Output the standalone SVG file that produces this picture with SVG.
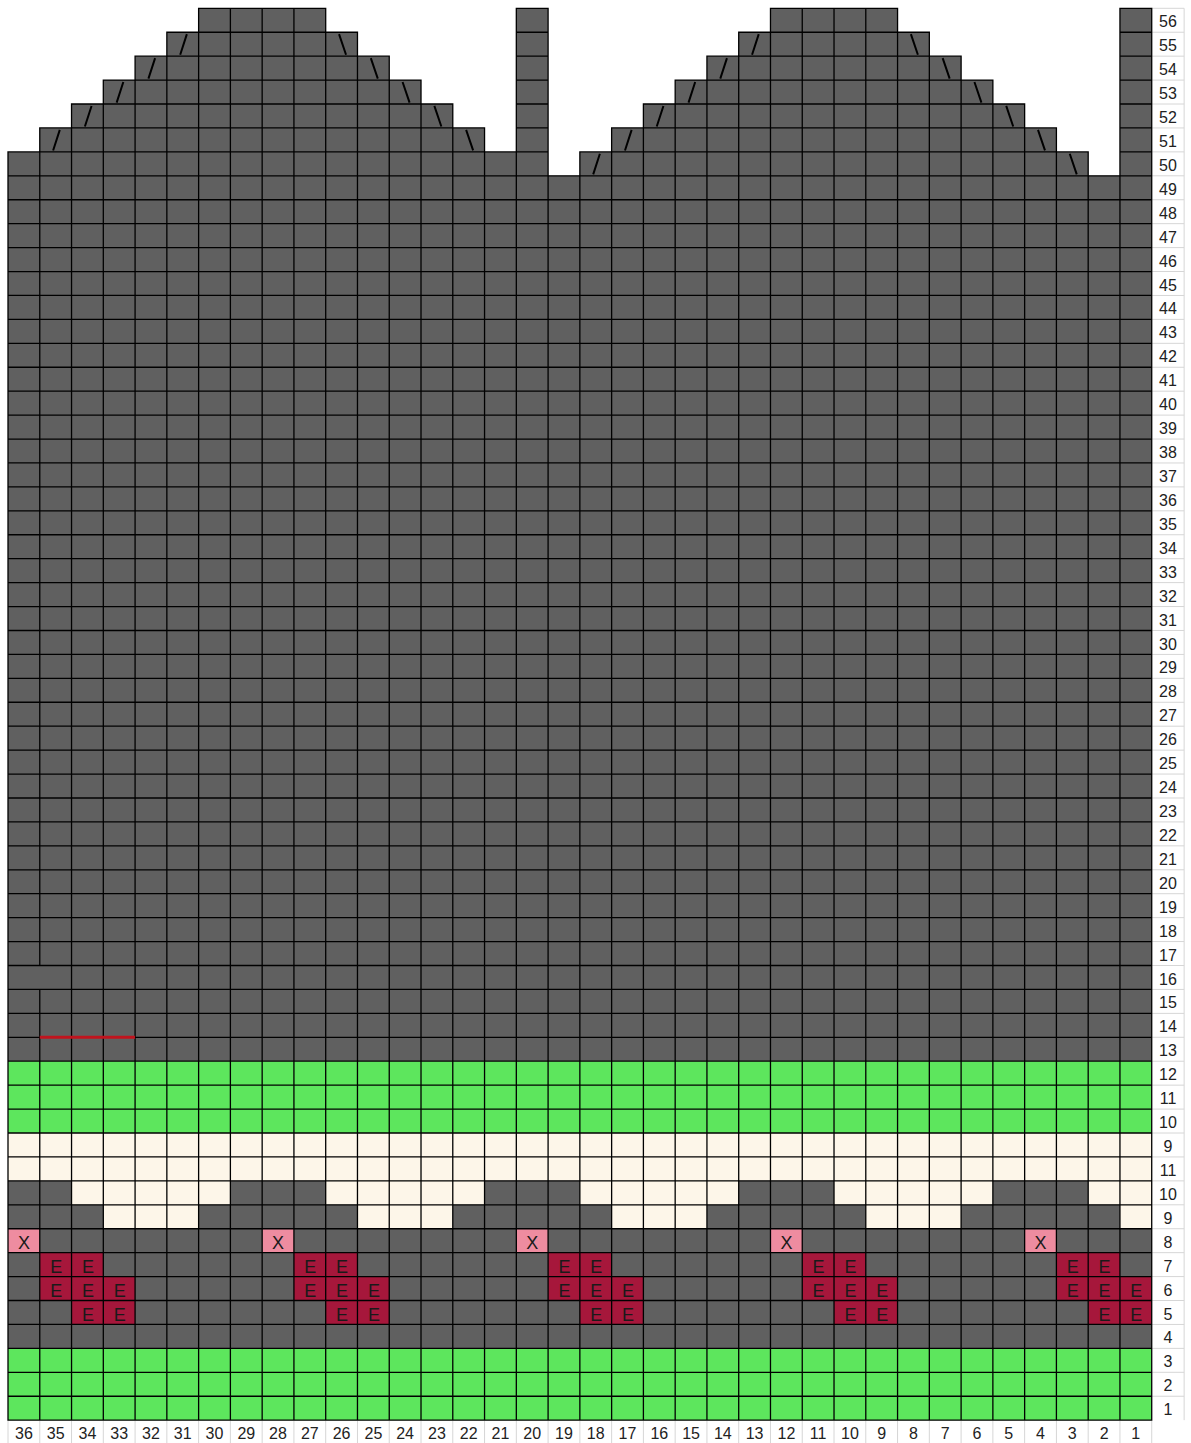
<svg xmlns="http://www.w3.org/2000/svg" width="1191" height="1443" viewBox="0 0 1191 1443">
<style>
.dk{fill:#606060}
.gr{fill:#5de65d}
.cr{fill:#fdf6e9}
.pk{fill:#ee8ca0}
.er{fill:#a6173b}
.grid{fill:none;stroke:#000;stroke-width:1.3;stroke-linecap:square;vector-effect:non-scaling-stroke}
.lbl{fill:none;stroke:#d6d6d6;stroke-width:1;vector-effect:non-scaling-stroke}
.dec{fill:none;stroke:#000;stroke-width:2;vector-effect:non-scaling-stroke}
.red{fill:none;stroke:#c0141e;stroke-width:3;vector-effect:non-scaling-stroke}
text{font-family:"Liberation Sans",Arial,sans-serif;fill:#222}
.rn{font-size:16px;text-anchor:middle}
.cn{font-size:16px;text-anchor:middle}
.sym{font-size:18px;text-anchor:middle;fill:#1a1a1a}
</style>
<rect width="1191" height="1443" fill="#fff"/>
<g id="chart" transform="translate(8 8.3) scale(31.77 23.93)">
  <g id="fills">
    <path class="dk" d="M0 44V6H1V5H2V4H3V3H4V2H5V1H6V0H10V1H11V2H12V3H13V4H14V5H15V6H16V0H17V7H18V6H19V5H20V4H21V3H22V2H23V1H24V0H28V1H29V2H30V3H31V4H32V5H33V6H34V7H35V0H36V44Z"/>
    <rect class="gr" x="0" y="44" width="36" height="3"/>
    <rect class="cr" x="0" y="47" width="36" height="2"/>
    <rect class="dk" x="0" y="49" width="36" height="7"/>
    <rect class="gr" x="0" y="56" width="36" height="3"/>
    <path class="cr" d="M2 49h5v1h-5zM10 49h5v1h-5zM18 49h5v1h-5zM26 49h5v1h-5zM34 49h2v1h-2zM3 50h3v1h-3zM11 50h3v1h-3zM19 50h3v1h-3zM27 50h3v1h-3zM35 50h1v1h-1z"/>
    <path class="pk" d="M0 51h1v1h-1zM8 51h1v1h-1zM16 51h1v1h-1zM24 51h1v1h-1zM32 51h1v1h-1z"/>
    <path class="er" d="M1 52h2v1h-2zM9 52h2v1h-2zM17 52h2v1h-2zM25 52h2v1h-2zM33 52h2v1h-2zM1 53h3v1h-3zM9 53h3v1h-3zM17 53h3v1h-3zM25 53h3v1h-3zM33 53h3v1h-3zM2 54h2v1h-2zM10 54h2v1h-2zM18 54h2v1h-2zM26 54h2v1h-2zM34 54h2v1h-2z"/>
  </g>
  <path id="label-lines" class="lbl" d="M36 0H37.02M36 1H37.02M36 2H37.02M36 3H37.02M36 4H37.02M36 5H37.02M36 6H37.02M36 7H37.02M36 8H37.02M36 9H37.02M36 10H37.02M36 11H37.02M36 12H37.02M36 13H37.02M36 14H37.02M36 15H37.02M36 16H37.02M36 17H37.02M36 18H37.02M36 19H37.02M36 20H37.02M36 21H37.02M36 22H37.02M36 23H37.02M36 24H37.02M36 25H37.02M36 26H37.02M36 27H37.02M36 28H37.02M36 29H37.02M36 30H37.02M36 31H37.02M36 32H37.02M36 33H37.02M36 34H37.02M36 35H37.02M36 36H37.02M36 37H37.02M36 38H37.02M36 39H37.02M36 40H37.02M36 41H37.02M36 42H37.02M36 43H37.02M36 44H37.02M36 45H37.02M36 46H37.02M36 47H37.02M36 48H37.02M36 49H37.02M36 50H37.02M36 51H37.02M36 52H37.02M36 53H37.02M36 54H37.02M36 55H37.02M36 56H37.02M36 57H37.02M36 58H37.02M37.02 0V59M0 59V60M1 59V60M2 59V60M3 59V60M4 59V60M5 59V60M6 59V60M7 59V60M8 59V60M9 59V60M10 59V60M11 59V60M12 59V60M13 59V60M14 59V60M15 59V60M16 59V60M17 59V60M18 59V60M19 59V60M20 59V60M21 59V60M22 59V60M23 59V60M24 59V60M25 59V60M26 59V60M27 59V60M28 59V60M29 59V60M30 59V60M31 59V60M32 59V60M33 59V60M34 59V60M35 59V60M36 59V60"/>
  <path id="grid" class="grid" d="M0 6V59M1 5V40M1 41V59M2 4V59M3 3V59M4 2V59M5 1V59M6 0V59M7 0V59M8 0V59M9 0V59M10 0V59M11 1V59M12 2V59M13 3V59M14 4V59M15 5V59M16 0V59M17 0V59M18 6V59M19 5V59M20 4V59M21 3V59M22 2V59M23 1V59M24 0V59M25 0V59M26 0V59M27 0V59M28 0V59M29 1V59M30 2V59M31 3V59M32 4V59M33 5V59M34 6V59M35 0V59M36 0V59M6 0H10M16 0H17M24 0H28M35 0H36M5 1H11M16 1H17M23 1H29M35 1H36M4 2H12M16 2H17M22 2H30M35 2H36M3 3H13M16 3H17M21 3H31M35 3H36M2 4H14M16 4H17M20 4H32M35 4H36M1 5H15M16 5H17M19 5H33M35 5H36M0 6H17M18 6H34M35 6H36M0 7H36M0 8H36M0 9H36M0 10H36M0 11H36M0 12H36M0 13H36M0 14H36M0 15H36M0 16H36M0 17H36M0 18H36M0 19H36M0 20H36M0 21H36M0 22H36M0 23H36M0 24H36M0 25H36M0 26H36M0 27H36M0 28H36M0 29H36M0 30H36M0 31H36M0 32H36M0 33H36M0 34H36M0 35H36M0 36H36M0 37H36M0 38H36M0 39H36M0 40H36M0 41H36M0 42H36M0 43H36M0 44H36M0 45H36M0 46H36M0 47H36M0 48H36M0 49H36M0 50H36M0 51H36M0 52H36M0 53H36M0 54H36M0 55H36M0 56H36M0 57H36M0 58H36M0 59H36"/>
  <path id="decreases" class="dec" d="M1.42 5.94L1.63 5.08M2.42 4.94L2.63 4.08M3.42 3.94L3.63 3.08M4.42 2.94L4.63 2.08M5.42 1.94L5.63 1.08M18.42 6.94L18.63 6.08M19.42 5.94L19.63 5.08M20.42 4.94L20.63 4.08M21.42 3.94L21.63 3.08M22.42 2.94L22.63 2.08M23.42 1.94L23.63 1.08M10.42 1.08L10.64 1.94M11.42 2.08L11.64 2.94M12.42 3.08L12.64 3.94M13.42 4.08L13.64 4.94M14.42 5.08L14.64 5.94M28.42 1.08L28.64 1.94M29.42 2.08L29.64 2.94M30.42 3.08L30.64 3.94M31.42 4.08L31.64 4.94M32.42 5.08L32.64 5.94M33.42 6.08L33.64 6.94"/>
  <path id="marker-line" class="red" d="M1 43H4"/>
</g>
<g id="symbols">
  <text class="sym" x="23.9" y="1248.7">X</text>
  <text class="sym" x="278" y="1248.7">X</text>
  <text class="sym" x="532.2" y="1248.7">X</text>
  <text class="sym" x="786.4" y="1248.7">X</text>
  <text class="sym" x="1040.5" y="1248.7">X</text>
  <text class="sym" x="56.2" y="1272.6">E</text>
  <text class="sym" x="87.9" y="1272.6">E</text>
  <text class="sym" x="310.3" y="1272.6">E</text>
  <text class="sym" x="342.1" y="1272.6">E</text>
  <text class="sym" x="564.5" y="1272.6">E</text>
  <text class="sym" x="596.2" y="1272.6">E</text>
  <text class="sym" x="818.6" y="1272.6">E</text>
  <text class="sym" x="850.4" y="1272.6">E</text>
  <text class="sym" x="1072.8" y="1272.6">E</text>
  <text class="sym" x="1104.6" y="1272.6">E</text>
  <text class="sym" x="56.2" y="1296.6">E</text>
  <text class="sym" x="87.9" y="1296.6">E</text>
  <text class="sym" x="119.7" y="1296.6">E</text>
  <text class="sym" x="310.3" y="1296.6">E</text>
  <text class="sym" x="342.1" y="1296.6">E</text>
  <text class="sym" x="373.9" y="1296.6">E</text>
  <text class="sym" x="564.5" y="1296.6">E</text>
  <text class="sym" x="596.2" y="1296.6">E</text>
  <text class="sym" x="628" y="1296.6">E</text>
  <text class="sym" x="818.6" y="1296.6">E</text>
  <text class="sym" x="850.4" y="1296.6">E</text>
  <text class="sym" x="882.2" y="1296.6">E</text>
  <text class="sym" x="1072.8" y="1296.6">E</text>
  <text class="sym" x="1104.6" y="1296.6">E</text>
  <text class="sym" x="1136.3" y="1296.6">E</text>
  <text class="sym" x="87.9" y="1320.5">E</text>
  <text class="sym" x="119.7" y="1320.5">E</text>
  <text class="sym" x="342.1" y="1320.5">E</text>
  <text class="sym" x="373.9" y="1320.5">E</text>
  <text class="sym" x="596.2" y="1320.5">E</text>
  <text class="sym" x="628" y="1320.5">E</text>
  <text class="sym" x="850.4" y="1320.5">E</text>
  <text class="sym" x="882.2" y="1320.5">E</text>
  <text class="sym" x="1104.6" y="1320.5">E</text>
  <text class="sym" x="1136.3" y="1320.5">E</text>
</g>
<g id="row-numbers">
  <text class="rn" x="1168" y="27.3">56</text>
  <text class="rn" x="1168" y="51.2">55</text>
  <text class="rn" x="1168" y="75.1">54</text>
  <text class="rn" x="1168" y="99.1">53</text>
  <text class="rn" x="1168" y="123">52</text>
  <text class="rn" x="1168" y="146.9">51</text>
  <text class="rn" x="1168" y="170.9">50</text>
  <text class="rn" x="1168" y="194.8">49</text>
  <text class="rn" x="1168" y="218.7">48</text>
  <text class="rn" x="1168" y="242.6">47</text>
  <text class="rn" x="1168" y="266.6">46</text>
  <text class="rn" x="1168" y="290.5">45</text>
  <text class="rn" x="1168" y="314.4">44</text>
  <text class="rn" x="1168" y="338.4">43</text>
  <text class="rn" x="1168" y="362.3">42</text>
  <text class="rn" x="1168" y="386.2">41</text>
  <text class="rn" x="1168" y="410.2">40</text>
  <text class="rn" x="1168" y="434.1">39</text>
  <text class="rn" x="1168" y="458">38</text>
  <text class="rn" x="1168" y="481.9">37</text>
  <text class="rn" x="1168" y="505.9">36</text>
  <text class="rn" x="1168" y="529.8">35</text>
  <text class="rn" x="1168" y="553.7">34</text>
  <text class="rn" x="1168" y="577.7">33</text>
  <text class="rn" x="1168" y="601.6">32</text>
  <text class="rn" x="1168" y="625.5">31</text>
  <text class="rn" x="1168" y="649.5">30</text>
  <text class="rn" x="1168" y="673.4">29</text>
  <text class="rn" x="1168" y="697.3">28</text>
  <text class="rn" x="1168" y="721.2">27</text>
  <text class="rn" x="1168" y="745.2">26</text>
  <text class="rn" x="1168" y="769.1">25</text>
  <text class="rn" x="1168" y="793">24</text>
  <text class="rn" x="1168" y="817">23</text>
  <text class="rn" x="1168" y="840.9">22</text>
  <text class="rn" x="1168" y="864.8">21</text>
  <text class="rn" x="1168" y="888.8">20</text>
  <text class="rn" x="1168" y="912.7">19</text>
  <text class="rn" x="1168" y="936.6">18</text>
  <text class="rn" x="1168" y="960.5">17</text>
  <text class="rn" x="1168" y="984.5">16</text>
  <text class="rn" x="1168" y="1008.4">15</text>
  <text class="rn" x="1168" y="1032.3">14</text>
  <text class="rn" x="1168" y="1056.3">13</text>
  <text class="rn" x="1168" y="1080.2">12</text>
  <text class="rn" x="1168" y="1104.1">11</text>
  <text class="rn" x="1168" y="1128.1">10</text>
  <text class="rn" x="1168" y="1152">9</text>
  <text class="rn" x="1168" y="1175.9">11</text>
  <text class="rn" x="1168" y="1199.8">10</text>
  <text class="rn" x="1168" y="1223.8">9</text>
  <text class="rn" x="1168" y="1247.7">8</text>
  <text class="rn" x="1168" y="1271.6">7</text>
  <text class="rn" x="1168" y="1295.6">6</text>
  <text class="rn" x="1168" y="1319.5">5</text>
  <text class="rn" x="1168" y="1343.4">4</text>
  <text class="rn" x="1168" y="1367.4">3</text>
  <text class="rn" x="1168" y="1391.3">2</text>
  <text class="rn" x="1168" y="1415.2">1</text>
</g>
<g id="column-numbers">
  <text class="cn" x="23.9" y="1439">36</text>
  <text class="cn" x="55.7" y="1439">35</text>
  <text class="cn" x="87.4" y="1439">34</text>
  <text class="cn" x="119.2" y="1439">33</text>
  <text class="cn" x="151" y="1439">32</text>
  <text class="cn" x="182.7" y="1439">31</text>
  <text class="cn" x="214.5" y="1439">30</text>
  <text class="cn" x="246.3" y="1439">29</text>
  <text class="cn" x="278" y="1439">28</text>
  <text class="cn" x="309.8" y="1439">27</text>
  <text class="cn" x="341.6" y="1439">26</text>
  <text class="cn" x="373.4" y="1439">25</text>
  <text class="cn" x="405.1" y="1439">24</text>
  <text class="cn" x="436.9" y="1439">23</text>
  <text class="cn" x="468.7" y="1439">22</text>
  <text class="cn" x="500.4" y="1439">21</text>
  <text class="cn" x="532.2" y="1439">20</text>
  <text class="cn" x="564" y="1439">19</text>
  <text class="cn" x="595.7" y="1439">18</text>
  <text class="cn" x="627.5" y="1439">17</text>
  <text class="cn" x="659.3" y="1439">16</text>
  <text class="cn" x="691.1" y="1439">15</text>
  <text class="cn" x="722.8" y="1439">14</text>
  <text class="cn" x="754.6" y="1439">13</text>
  <text class="cn" x="786.4" y="1439">12</text>
  <text class="cn" x="818.1" y="1439">11</text>
  <text class="cn" x="849.9" y="1439">10</text>
  <text class="cn" x="881.7" y="1439">9</text>
  <text class="cn" x="913.4" y="1439">8</text>
  <text class="cn" x="945.2" y="1439">7</text>
  <text class="cn" x="977" y="1439">6</text>
  <text class="cn" x="1008.8" y="1439">5</text>
  <text class="cn" x="1040.5" y="1439">4</text>
  <text class="cn" x="1072.3" y="1439">3</text>
  <text class="cn" x="1104.1" y="1439">2</text>
  <text class="cn" x="1135.8" y="1439">1</text>
</g>
</svg>
